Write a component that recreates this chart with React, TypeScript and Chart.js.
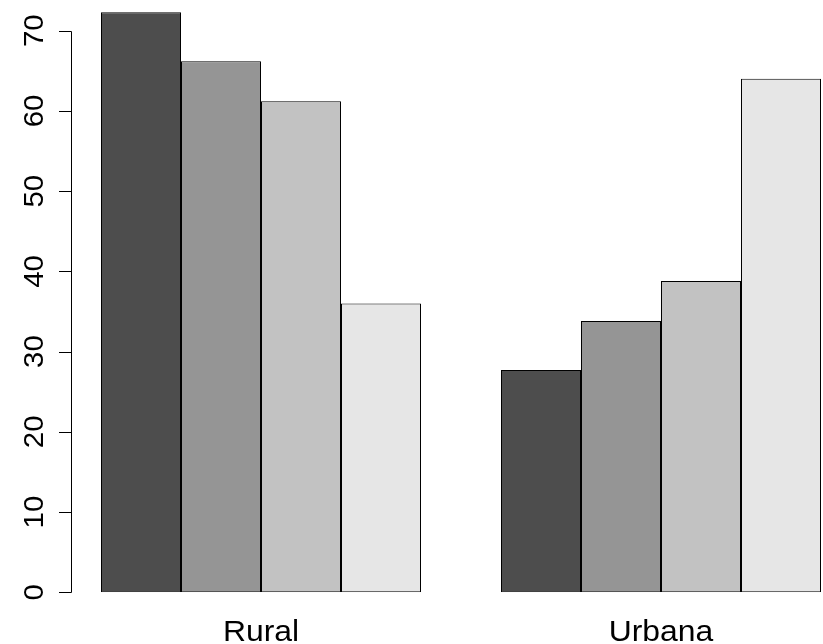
import React, { useEffect, useRef } from "react";
import { Chart, registerables } from "chart.js";

Chart.register(...registerables);

const categories = ["Rural", "Urbana"];
const series1 = [72.3, 27.7];
const series2 = [66.2, 33.8];
const series3 = [61.2, 38.8];
const series4 = [36.0, 64.0];
const yTicks = [0, 10, 20, 30, 40, 50, 60, 70];
const fills = ["#4D4D4D", "#959595", "#C2C2C2", "#E6E6E6"];

const FONT = "'Liberation Sans', Arial, Helvetica, sans-serif";

const CANVAS_W = 880;
const CANVAS_H = 680;
const OFFSET_TOP = 30;

const rAxisPlugin = {
  id: "rAxis",
  afterDraw(chart: any) {
    const ctx = chart.ctx;
    const y = chart.scales.y;
    const x = chart.scales.x;
    const axisX = 71.5;
    ctx.save();
    ctx.strokeStyle = "#000";
    ctx.lineWidth = 1;
    ctx.beginPath();
    ctx.moveTo(axisX, Math.round(y.getPixelForValue(yTicks[0])) + 0.5);
    ctx.lineTo(axisX, Math.round(y.getPixelForValue(yTicks[yTicks.length - 1])) + 0.5);
    for (const t of yTicks) {
      const py = Math.round(y.getPixelForValue(t)) + 0.5;
      ctx.moveTo(59, py);
      ctx.lineTo(axisX, py);
    }
    ctx.stroke();
    ctx.fillStyle = "#000";
    ctx.textAlign = "center";
    ctx.textBaseline = "alphabetic";
    ctx.font = `28px ${FONT}`;
    for (const t of yTicks) {
      const py = y.getPixelForValue(t);
      ctx.save();
      ctx.translate(42.5, py);
      ctx.rotate(-Math.PI / 2);
      ctx.scale(1.05, 1);
      ctx.fillText(String(t), 0, 0);
      ctx.restore();
    }
    ctx.font = `29px ${FONT}`;
    const baseY = chart.chartArea.bottom + 48.6;
    categories.forEach((c, i) => {
      const px = x.getPixelForValue(i);
      ctx.save();
      ctx.translate(px, baseY);
      ctx.scale(1.1, 1);
      ctx.fillText(c, 0, 0);
      ctx.restore();
    });
    ctx.restore();
  },
};

export default function App() {
  const ref = useRef<HTMLCanvasElement | null>(null);
  useEffect(() => {
    if (!ref.current) return;
    const data = [series1, series2, series3, series4];
    const chart = new Chart(ref.current, {
      type: "bar",
      data: {
        labels: categories,
        datasets: data.map((d, i) => ({
          label: `s${i + 1}`,
          data: d,
          backgroundColor: fills[i],
          borderColor: "#000",
          borderWidth: 1,
          borderSkipped: false,
          categoryPercentage: 0.8,
          barPercentage: 1.0,
        })),
      },
      options: {
        responsive: false,
        maintainAspectRatio: false,
        animation: false,
        devicePixelRatio: 1,
        layout: { padding: { left: 61, right: CANVAS_W - 861, top: 622.3 - 75 * 8.023, bottom: 0 } },
        plugins: { legend: { display: false }, tooltip: { enabled: false } },
        scales: {
          x: {
            type: "category",
            offset: true,
            grid: { display: false, drawTicks: false },
            border: { display: false },
            ticks: { display: false },
            afterFit: (s: any) => {
              s.height = CANVAS_H - 622.3;
            },
          },
          y: {
            display: false,
            min: 0,
            max: 75,
          },
        },
      },
      plugins: [rAxisPlugin],
    });
    return () => chart.destroy();
  }, []);
  return (
    <div
      style={{
        position: "absolute",
        left: 0,
        top: 0,
        width: 823,
        height: 644,
        overflow: "hidden",
        background: "#fff",
      }}
    >
      <canvas
        ref={ref}
        width={CANVAS_W}
        height={CANVAS_H}
        style={{ position: "absolute", left: 0, top: -OFFSET_TOP, width: CANVAS_W, height: CANVAS_H }}
      />
    </div>
  );
}
